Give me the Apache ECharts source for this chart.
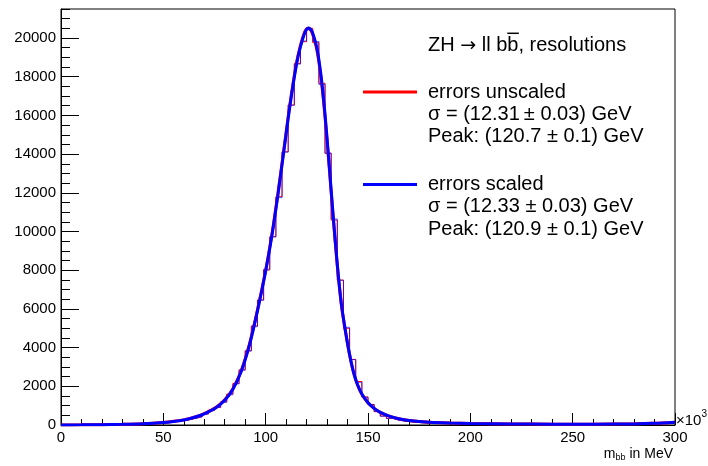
<!DOCTYPE html>
<html><head><meta charset="utf-8">
<script src="https://cdn.jsdelivr.net/npm/echarts@6/dist/echarts.min.js"></script>
<style>html,body{margin:0;padding:0;background:#fff}#c{width:708px;height:466px}</style>
</head><body><div id="c"></div>
<script>
// ---- data ----
const binMin = 0, binWidth = 3;
const redHist = [2,4,5,8,10,13,16,21,26,31,
  38,46,57,70,86,104,128,152,190,235,
  290,350,430,570,775,915,1200,1600,2150,2850,
  3840,5120,6460,8010,9730,11800,14120,16540,18690,19810,
  20500,19760,17660,14040,10590,7490,5000,3390,2250,1450,
  1060,690,465,345,260,205,170,140,120,105,
  95,88,82,76,72,68,65,60,58,55,
  53,50,48,47,45,44,42,41,40,40,
  39,39,38,39,40,40,42,43,45,48,
  51,55,60,66,73,82,92,105,120,140];
const blueHist = [2,4,5,8,10,13,16,20,26,31,
  38,46,56,70,85,104,126,150,180,240,
  285,350,420,565,740,910,1170,1560,2120,2830,
  3820,5080,6450,8050,9720,11750,14100,16520,18650,19850,
  20420,19820,17600,14060,10650,7480,5050,3380,2200,1430,
  1050,700,450,340,250,200,168,140,118,104,
  94,87,81,76,71,68,64,60,57,55,
  52,50,48,46,45,43,42,41,40,39,
  39,38,38,39,39,40,41,43,45,47,
  50,54,59,65,72,81,91,104,118,138];
const curveX = [0,10,20,30,40,50,55,60,64,68,72,76,80,84,88,92,96,100,103,106,109,112,115,117,119,120,121,122,123,125,127,129,131,133,135,137,139,141,143,145,147,150,153,156,160,165,170,180,190,200,220,240,260,280,290,300];
const blueCurve = [2,8,18,35,68,130,185,260,360,490,680,920,1280,1850,2750,4100,5900,7950,9750,11900,14250,16600,18600,19550,20250,20450,20520,20450,20250,19500,18100,16050,13500,10800,8300,6250,4850,3650,2700,2050,1600,1150,860,650,470,320,230,140,100,78,55,44,43,58,85,140];
const redCurve  = [2,8,18,35,68,132,188,265,365,495,690,930,1300,1880,2790,4150,5950,8000,9820,11980,14330,16680,18680,19620,20300,20480,20500,20400,20180,19400,17980,15930,13380,10700,8230,6200,4820,3630,2690,2040,1590,1150,860,650,470,322,232,142,101,79,56,45,44,59,86,142];
const xAxisRange = {min: 0, max: 300, step: 50};
const yAxisRange = {min: 0, max: 21500, step: 2000, minorStep: 500};
const titleParts = ['ZH ', '\u2192', ' ll b', 'b', ', resolutions'];
const legendEntries = [
  {color: '#ff0000', lines: ['errors unscaled', '\u03c3 = (12.31\u2009\u00b1 0.03) GeV', 'Peak: (120.7 \u00b1 0.1) GeV']},
  {color: '#0000ff', lines: ['errors scaled', '\u03c3 = (12.33 \u00b1 0.03) GeV', 'Peak: (120.9 \u00b1 0.1) GeV']}
];

// ---- helpers ----
const FONT = '"Liberation Sans", Arial, Helvetica, sans-serif';
const SYMFONT = '"DejaVu Sans", sans-serif';
const mctx = document.createElement('canvas').getContext('2d');
function tw(t, size, fam){ mctx.font = size + 'px ' + (fam || FONT); return mctx.measureText(t).width; }
function histPoints(v){
  const pts = v.map((y,i)=>[binMin + i*binWidth, y]);
  pts.push([binMin + v.length*binWidth, v[v.length-1]]);
  return pts;
}
function curvePoints(v){ return curveX.map((x,i)=>[x, v[i]]); }

const LEG = 20;
const graphics = [];
const lx = 428;
{
  let x = lx;
  titleParts.forEach((p, i)=>{
    const fam = (i === 1) ? SYMFONT : FONT;
    const sz = (i === 1) ? 19 : LEG;
    graphics.push({type:'text', x: x, y: (i===1)?46:45, style:{text: p, font: sz+'px '+fam, fill:'#000', verticalAlign:'middle'}});
    const w = tw(p, sz, fam);
    if (i === 3) {
      graphics.push({type:'line', shape:{x1: x, y1: 33.3, x2: x + w + 0.5, y2: 33.3}, style:{stroke:'#000', lineWidth:1.5}});
    }
    x += w;
  });
}
const blockY = [92, 184.5];
legendEntries.forEach((e, k)=>{
  const y0 = blockY[k];
  graphics.push({type:'line', shape:{x1:363, y1:y0, x2:417, y2:y0}, style:{stroke:e.color, lineWidth:3}});
  e.lines.forEach((t, j)=>{
    graphics.push({type:'text', x: lx, y: y0 + j*22.3, style:{text:t, font: LEG+'px '+FONT, fill:'#000', verticalAlign:'middle'}});
  });
});
// x-axis exponent and title
graphics.push({type:'text', x: 676, y: 421, style:{text:'\u00d710', font:'15px '+FONT, fill:'#000', verticalAlign:'middle'}});
graphics.push({type:'text', x: 676 + tw('\u00d710',15), y: 414, style:{text:'3', font:'10px '+FONT, fill:'#000', verticalAlign:'middle'}});
{
  const wm = tw('m',14), wb = tw('bb',9), wr = tw(' in MeV',14);
  const right = 673, start = right - (wm+wb+wr);
  graphics.push({type:'text', x: start, y: 454, style:{text:'m', font:'14px '+FONT, fill:'#000', verticalAlign:'middle'}});
  graphics.push({type:'text', x: start+wm, y: 458, style:{text:'bb', font:'9px '+FONT, fill:'#000', verticalAlign:'middle'}});
  graphics.push({type:'text', x: start+wm+wb, y: 454, style:{text:' in MeV', font:'14px '+FONT, fill:'#000', verticalAlign:'middle'}});
}

const gridRect = {left:61, right:33, top:9, bottom:41, containLabel:false, outerBoundsMode:'none'};
const chart = echarts.init(document.getElementById('c'), null, {renderer:'canvas'});
chart.setOption({
  animation:false,
  backgroundColor:'#fff',
  grid:[Object.assign({show:true, borderColor:'#000', borderWidth:1, backgroundColor:'transparent'}, gridRect),
        Object.assign({show:false}, gridRect)],
  xAxis:[{
    type:'value', gridIndex:0, min:xAxisRange.min, max:xAxisRange.max, interval:xAxisRange.step,
    axisLine:{show:true, onZero:false, lineStyle:{color:'#000', width:1}},
    axisTick:{show:true, inside:true, length:12, lineStyle:{color:'#000', width:1}},
    minorTick:{show:true, splitNumber:5, length:6, lineStyle:{color:'#000', width:1}},
    axisLabel:{color:'#000', fontSize:15, fontFamily:FONT, margin:5, formatter:(v)=>String(v)},
    splitLine:{show:false}
  },{
    type:'value', gridIndex:1, min:xAxisRange.min, max:xAxisRange.max, show:false
  }],
  yAxis:[{
    type:'value', gridIndex:0, min:yAxisRange.min, max:yAxisRange.max, interval:yAxisRange.step,
    axisLine:{show:true, onZero:false, lineStyle:{color:'#000', width:1}},
    axisTick:{show:true, inside:true, length:18, lineStyle:{color:'#000', width:1}},
    axisLabel:{color:'#000', fontSize:15, fontFamily:FONT, margin:5, showMaxLabel:false, formatter:(v)=>String(v)},
    splitLine:{show:false}
  },{
    type:'value', gridIndex:1, min:yAxisRange.min, max:yAxisRange.max, interval:yAxisRange.minorStep,
    axisLine:{show:false},
    axisTick:{show:true, inside:true, length:9, lineStyle:{color:'#000', width:1}},
    axisLabel:{show:false},
    splitLine:{show:false}
  }],
  series:[
    {type:'line', xAxisIndex:0, yAxisIndex:0, data:histPoints(redHist), step:'end', symbol:'none',
     lineStyle:{color:'#ff0000', width:1}, z:2},
    {type:'line', xAxisIndex:0, yAxisIndex:0, data:histPoints(blueHist), step:'end', symbol:'none',
     lineStyle:{color:'#0000ff', width:1, opacity:0.6}, z:3},
    {type:'line', xAxisIndex:0, yAxisIndex:0, data:curvePoints(redCurve), smooth:0.3, symbol:'none',
     lineStyle:{color:'#ff0000', width:3}, z:4},
    {type:'line', xAxisIndex:0, yAxisIndex:0, data:curvePoints(blueCurve), smooth:0.3, symbol:'none',
     lineStyle:{color:'#0000ff', width:3}, z:5}
  ],
  graphic: graphics
});
</script>
</body></html>
